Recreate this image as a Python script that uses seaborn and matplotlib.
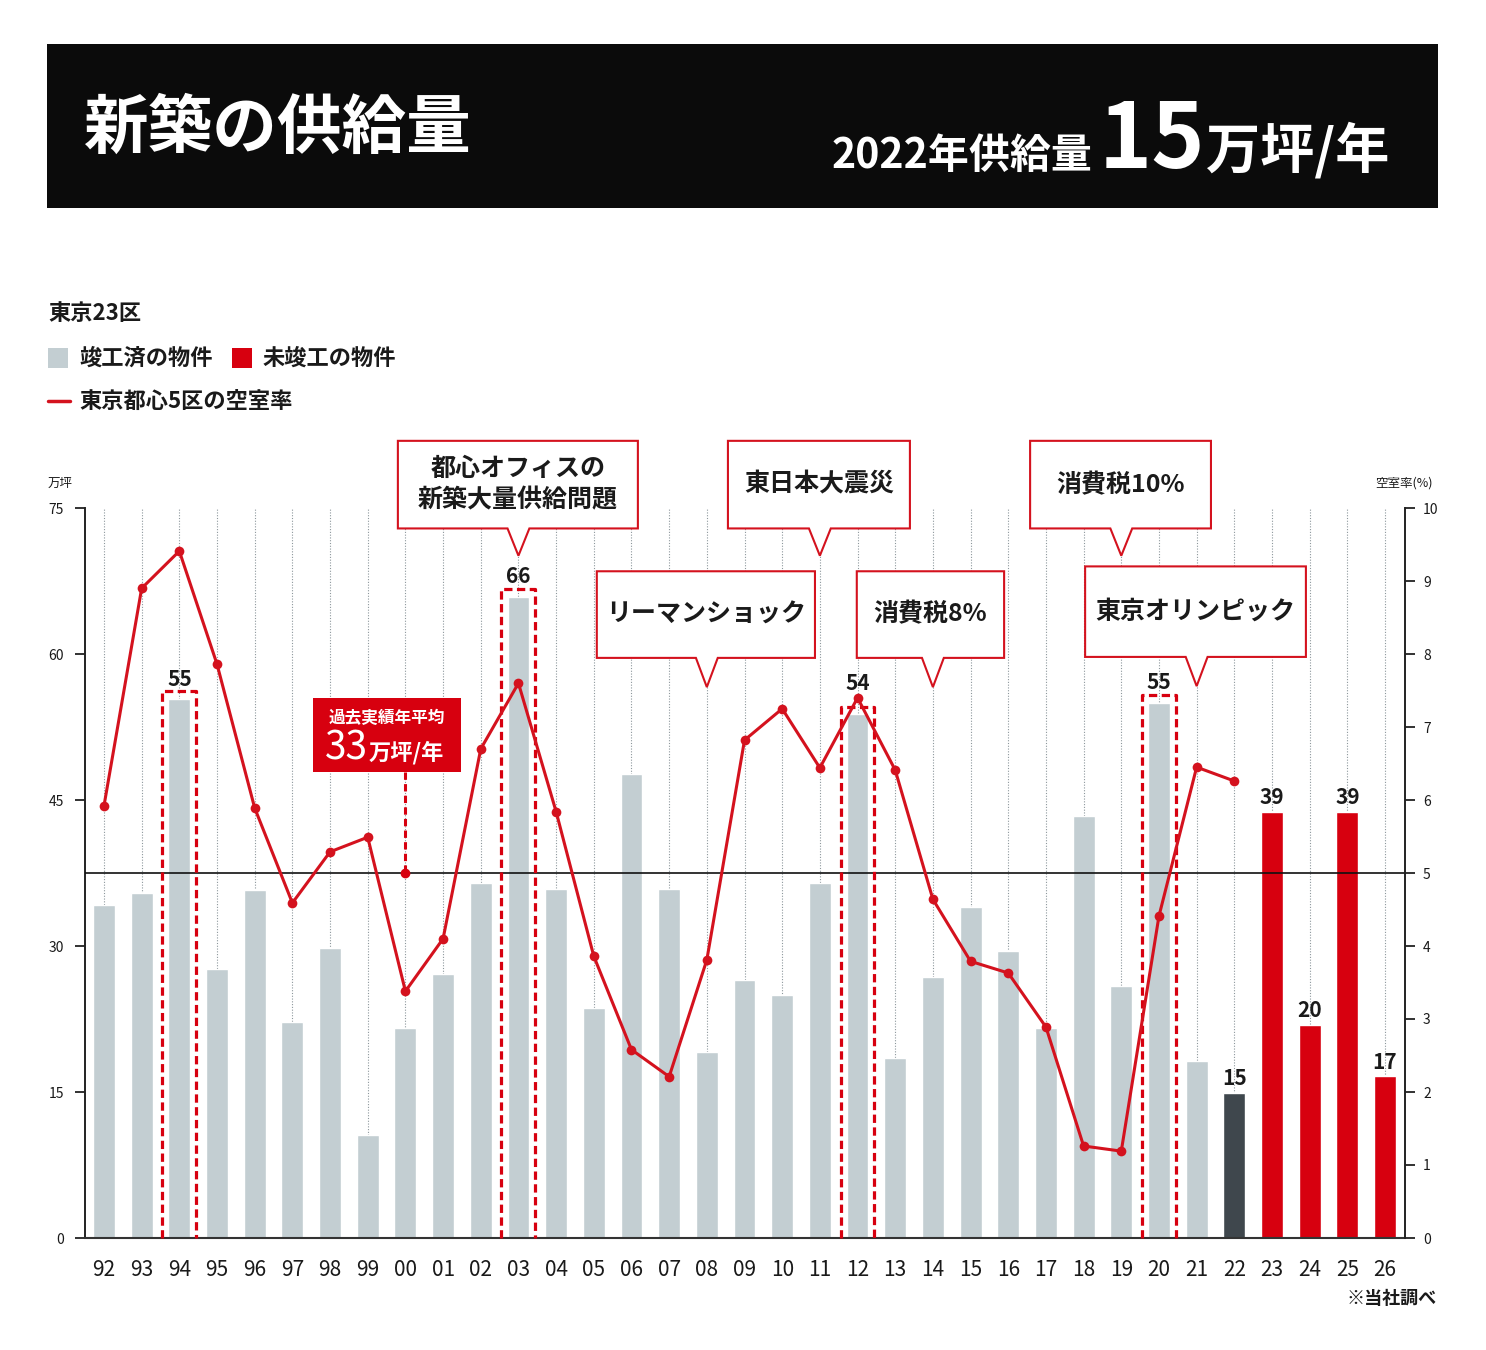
import numpy as np
import pandas as pd
import matplotlib
matplotlib.use("Agg")
import matplotlib.pyplot as plt
from matplotlib.patches import Rectangle, Polygon
from matplotlib.lines import Line2D
import seaborn as sns

# ---- data ----
years = ["92", "93", "94", "95", "96", "97", "98", "99", "00", "01", "02", "03",
         "04", "05", "06", "07", "08", "09", "10", "11", "12", "13", "14", "15",
         "16", "17", "18", "19", "20", "21", "22", "23", "24", "25", "26"]
supply = [34.2, 35.4, 55.4, 27.6, 35.8, 22.2, 29.8, 10.6, 21.6, 27.1, 36.5, 65.9,
          35.9, 23.6, 47.7, 35.9, 19.1, 26.5, 25.0, 36.5, 53.8, 18.5, 26.8, 34.0,
          29.5, 21.6, 43.4, 25.9, 55.0, 18.2, 14.9, 43.8, 21.9, 43.8, 16.6]
status = ["done"] * 30 + ["2022"] + ["plan"] * 4
vacancy = [5.92, 8.90, 9.41, 7.86, 5.89, 4.59, 5.29, 5.49, 3.38, 4.10, 6.70, 7.60,
           5.84, 3.86, 2.58, 2.21, 3.81, 6.82, 7.25, 6.44, 7.40, 6.41, 4.64, 3.79,
           3.63, 2.89, 1.26, 1.19, 4.41, 6.45, 6.26]
peak_years = ["94", "03", "12", "20"]
peak_labels = ["55", "66", "54", "55"]
value_labels = {"22": "15", "23": "39", "24": "20", "25": "39", "26": "17"}
avg_line = 37.5   # 5% vacancy reference
events = [
    ("都心オフィスの\n新築大量供給問題", "03"),
    ("東日本大震災", "11"),
    ("消費税10%", "19"),
    ("リーマンショック", "08"),
    ("消費税8%", "14"),
    ("東京オリンピック", "21"),
]

df = pd.DataFrame({"year": years, "supply": supply, "status": status})

GRAY = "#c3ced2"
DARK = "#3f474d"
RED = "#d7000f"
LINE_RED = "#d4121e"
TXT = "#1a1a1a"
color_map = {"done": GRAY, "2022": DARK, "plan": RED}

W, H = 1486, 1350
fx = lambda x: x / W
fy = lambda y: 1 - y / H

sns.set_theme(style="white")
plt.rcParams['font.family'] = ['Noto Sans CJK JP', 'DejaVu Sans']

fig = plt.figure(figsize=(W / 100, H / 100), dpi=100)
fig.patch.set_facecolor("white")

# header
fig.patches.append(Rectangle((fx(47), fy(208)), fx(1438) - fx(47), fy(44) - fy(208),
                             transform=fig.transFigure, facecolor="#0b0b0b", edgecolor="none"))
fig.text(fx(84), fy(129), "新築の供給量", color="white", fontsize=46.5, fontweight="bold",
         va="center", ha="left")
fig.text(fx(1092), fy(168), "2022年供給量", color="white", fontsize=29.5, fontweight="bold",
         va="baseline", ha="right")
fig.text(fx(1099), fy(168), "15", color="white", fontsize=65, fontweight="bold",
         va="baseline", ha="left")
fig.text(fx(1206), fy(168), "万坪/年", color="white", fontsize=39, fontweight="bold",
         va="baseline", ha="left")

# legend block
fig.text(fx(48), fy(314), "東京23区", fontsize=16, fontweight="bold", color=TXT, va="center")
fig.patches.append(Rectangle((fx(48), fy(368)), fx(20), 20 / H, transform=fig.transFigure,
                             facecolor=GRAY, edgecolor="none"))
fig.text(fx(79), fy(358), "竣工済の物件", fontsize=16, fontweight="bold", color=TXT, va="center")
fig.patches.append(Rectangle((fx(232), fy(368)), fx(20), 20 / H, transform=fig.transFigure,
                             facecolor=RED, edgecolor="none"))
fig.text(fx(263), fy(358), "未竣工の物件", fontsize=16, fontweight="bold", color=TXT, va="center")
fig.lines.append(Line2D([fx(48), fx(70)], [fy(401), fy(401)], transform=fig.transFigure,
                        color=LINE_RED, lw=2.5))
fig.text(fx(79), fy(401), "東京都心5区の空室率", fontsize=16, fontweight="bold", color=TXT, va="center")

fig.text(fx(48), fy(483), "万坪", fontsize=9, color=TXT, va="center")
fig.text(fx(1433), fy(483), "空室率(%)", fontsize=9, color=TXT, va="center", ha="right")
fig.text(fx(1437), fy(1298), "※当社調べ", fontsize=13, fontweight="bold", color=TXT,
         va="center", ha="right")

# main axes
ax = fig.add_axes([fx(85), fy(1238), fx(1405) - fx(85), fy(508) - fy(1238)])
n = len(years)
ax.vlines(np.arange(n), 0, 75, colors="#8d979c", linestyles=(0, (1, 1.5)), lw=0.8, zorder=0.5)

sns.barplot(data=df, x="year", y="supply", hue="status", palette=color_map, dodge=False,
            width=0.58, saturation=1, legend=False, ax=ax, zorder=2)

ax.set_xlim(-0.504, 34.53)
ax.set_ylim(0, 75)
ax.set_xlabel("")
ax.set_ylabel("")
ax.set_yticks([0, 15, 30, 45, 60, 75])
ax.tick_params(axis="y", direction="out", length=7, width=1.3, color="#222", labelsize=10,
               pad=8, labelcolor=TXT, left=True)
ax.tick_params(axis="x", length=0, pad=15, labelsize=15, labelcolor=TXT)
for s in ["top", "right"]:
    ax.spines[s].set_visible(False)
ax.spines["left"].set_color("#222")
ax.spines["left"].set_linewidth(1.4)
ax.spines["bottom"].set_color("#333")
ax.spines["bottom"].set_linewidth(1.5)

# 5% reference line
ax.axhline(avg_line, color="#111", lw=1.2, zorder=4)

# peak highlight boxes
idx = {y: i for i, y in enumerate(years)}
for y, lab in zip(peak_years, peak_labels):
    i = idx[y]
    top = supply[i] + 0.8
    ax.plot([i - 0.45, i - 0.45, i + 0.45, i + 0.45], [0, top, top, 0], color=RED,
            lw=2.3, ls=(0, (2.6, 1.4)), zorder=6, clip_on=False, solid_joinstyle="miter")
    off = 1.3 if y == "12" else 0.15
    ax.text(i, top + off, lab, ha="center", va="bottom", fontsize=15, fontweight="bold",
            color=TXT, zorder=7)

for y, lab in value_labels.items():
    i = idx[y]
    ax.text(i, supply[i] + 0.4, lab, ha="center", va="bottom", fontsize=15,
            fontweight="bold", color=TXT)


# callout balloons
def callout(text, x0, x1, yb, yt, tip_x, tip_y, hw=0.29):
    verts = [(x0, yb), (x0, yt), (x1, yt), (x1, yb), (tip_x + hw, yb), (tip_x, tip_y),
             (tip_x - hw, yb)]
    ax.add_patch(Polygon(verts, closed=True, facecolor="white", edgecolor=LINE_RED, lw=1.5,
                         clip_on=False, zorder=8, joinstyle="miter"))
    ax.text((x0 + x1) / 2, (yb + yt) / 2, text, ha="center", va="center", fontsize=18,
            fontweight="bold", color=TXT, linespacing=1.35, zorder=9)


box_geo = [
    (7.80, 14.17, 72.9, 81.9, 70.1),
    (16.56, 21.39, 72.9, 81.9, 70.1),
    (24.58, 29.38, 72.9, 81.9, 70.1),
    (13.08, 18.87, 59.6, 68.5, 56.6),
    (19.98, 23.89, 59.6, 68.5, 56.6),
    (26.04, 31.90, 59.7, 69.0, 56.7),
]
for (text, y), (x0, x1, yb, yt, ty) in zip(events, box_geo):
    callout(text, x0, x1, yb, yt, idx[y], ty)

# past average box
ax.add_patch(Rectangle((5.55, 47.9), 3.92, 7.6, facecolor=RED, edgecolor="none", zorder=8,
                       clip_on=False))
ax.plot([8, 8], [47.9, avg_line], color=RED, lw=2.2, ls=(0, (2.4, 1.4)), zorder=7)
ax.plot([8], [avg_line], "o", color=RED, ms=6, zorder=7)
ax.text(7.51, 53.4, "過去実績年平均", ha="center", va="center", fontsize=12,
        fontweight="bold", color="white", zorder=9)
ax.text(7.0, 49.2, "33", ha="right", va="baseline", fontsize=28, color="white", zorder=9)
ax.text(7.02, 49.2, "万坪/年", ha="left", va="baseline", fontsize=16, fontweight="bold",
        color="white", zorder=9)

# vacancy rate on the right axis
ax2 = ax.twinx()
sns.lineplot(x=np.arange(len(vacancy)), y=vacancy, ax=ax2, color=LINE_RED, lw=2.2,
             marker="o", markersize=7, markeredgewidth=0, zorder=5)
ax2.set_ylim(0, 10)
ax2.set_xlim(-0.504, 34.53)
ax2.set_yticks(range(0, 11))
ax2.set_ylabel("")
ax2.tick_params(axis="y", direction="out", length=7, width=1.3, color="#222", labelsize=10,
                pad=6, labelcolor=TXT, right=True)
for s in ["top", "left", "bottom"]:
    ax2.spines[s].set_visible(False)
ax2.spines["right"].set_color("#222")
ax2.spines["right"].set_linewidth(1.4)

fig.savefig("out.png", dpi=100)
